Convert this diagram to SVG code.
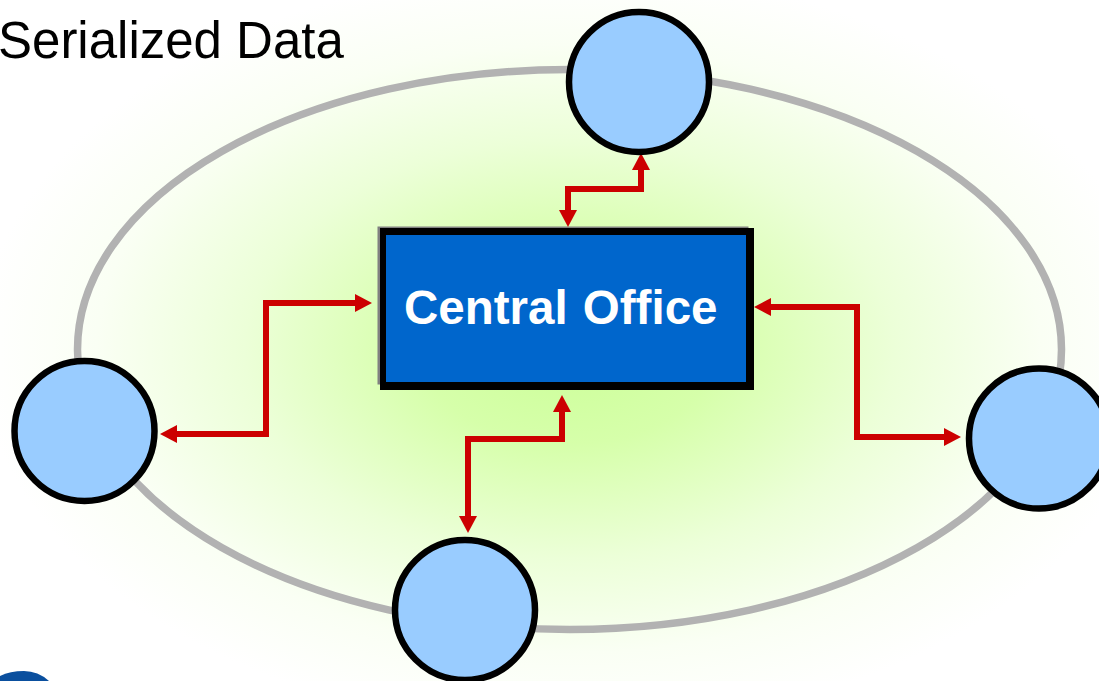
<svg xmlns="http://www.w3.org/2000/svg" width="1099" height="681" viewBox="0 0 1099 681">
<style>
.site{fill:#99ccff;stroke:#000;stroke-width:6.500}
.link{fill:none;stroke:#cc0000;stroke-width:6;marker-start:url(#head);marker-end:url(#head)}
text{font-family:"Liberation Sans",Arial,sans-serif}
</style>
<defs>
<radialGradient id="glow" gradientUnits="userSpaceOnUse" cx="0" cy="0" r="1" gradientTransform="translate(569 349) scale(590 380)">
<stop offset="0" stop-color="#ccff99"/><stop offset="0.25" stop-color="#d6ffaa"/><stop offset="0.55" stop-color="#ecffd8"/><stop offset="0.8" stop-color="#fafff4"/><stop offset="1" stop-color="#ffffff"/>
</radialGradient>
<marker id="head" markerUnits="userSpaceOnUse" markerWidth="18" markerHeight="18" refX="9" refY="9" orient="auto-start-reverse">
<path d="M0 0L17 9L0 18Z" fill="#cc0000"/>
</marker>
</defs>
<rect width="1099" height="681" fill="#fff"/>
<rect width="1099" height="681" fill="url(#glow)"/>
<text x="-2" y="58" font-size="51" fill="#000">Serialized Data</text>
<g id="ring"><ellipse cx="569.500" cy="349.500" rx="492" ry="280" fill="none" stroke="#b2b2b2" stroke-width="7.500"/></g>
<g id="logo"><path d="M0 681V676Q10 671 24 671Q38 671 49 681Z" fill="#0a4f9e"/></g>
<g id="central-office">
<rect x="377.500" y="226.500" width="371" height="158" fill="#808080"/>
<rect x="380" y="228" width="374" height="162" fill="#000"/>
<rect x="386" y="235" width="360" height="147" fill="#0066cc"/>
<text x="404" y="324" font-size="47.500" word-spacing="2" font-weight="700" fill="#fff">Central Office</text>
</g>
<g id="connectors">
<path class="link" d="M568 219V189H641V161"/>
<path class="link" d="M168 434H266V303H364"/>
<path class="link" d="M762 307H857V437H953"/>
<path class="link" d="M562 403V439H468V525"/>
</g>
<g id="site-top"><circle class="site" cx="639" cy="82" r="70"/></g>
<g id="site-left"><circle class="site" cx="84.500" cy="431" r="70"/></g>
<g id="site-right"><circle class="site" cx="1039" cy="438.500" r="70"/></g>
<g id="site-bottom"><circle class="site" cx="465" cy="610" r="70"/></g>
</svg>
